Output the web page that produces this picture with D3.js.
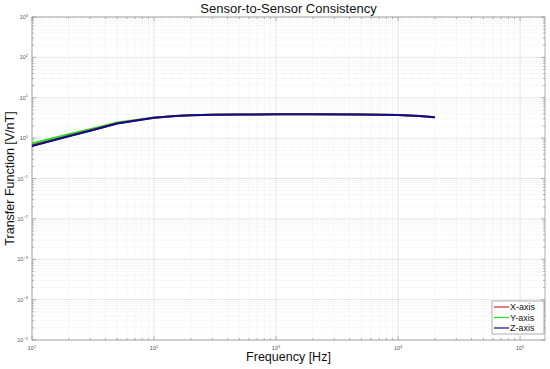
<!DOCTYPE html>
<html>
<head>
<meta charset="utf-8">
<script src="https://cdn.jsdelivr.net/npm/d3@7"></script>
<style>
  body { margin: 0; background: #fff; }
  text { font-family: "Liberation Sans", Arial, sans-serif; }
</style>
</head>
<body>
<svg id="chart" width="550" height="369"></svg>
<script>
// data
var freqs = [10, 20, 30, 50, 100, 150, 200, 300, 500, 1000, 2000, 5000, 10000, 15000, 20000];
var xAxisVals = [0.66, 1.13, 1.55, 2.33, 3.2, 3.52, 3.68, 3.8, 3.85, 3.88, 3.88, 3.85, 3.75, 3.55, 3.3];
var yAxisVals = [0.74, 1.25, 1.66, 2.45, 3.24, 3.54, 3.68, 3.8, 3.85, 3.88, 3.88, 3.85, 3.75, 3.55, 3.3];
var zAxisVals = [0.64, 1.11, 1.53, 2.3, 3.18, 3.51, 3.68, 3.8, 3.85, 3.88, 3.88, 3.85, 3.75, 3.55, 3.3];
var seriesNames = ["X-axis", "Y-axis", "Z-axis"];
var seriesColors = ["#d42a2a", "#22dd22", "#0c0c8c"];
var xDecades = [1, 2, 3, 4, 5];
var yDecades = [-5, -4, -3, -2, -1, 0, 1, 2, 3];

var svg = d3.select("#chart");
var margin = { left: 32, right: 5, top: 17, bottom: 29 };
var width = 550, height = 369;

var x = d3.scaleLog().domain([10, 1.6e5]).range([margin.left, width - margin.right]);
var y = d3.scaleLog().domain([1e-5, 1e3]).range([height - margin.bottom, margin.top]);

var x0 = margin.left, x1 = width - margin.right;
var y0 = height - margin.bottom, y1 = margin.top;

// minor values
var xMinor = [], yMinor = [];
xDecades.forEach(function (d) {
  for (var k = 2; k <= 9; k++) {
    var v = k * Math.pow(10, d);
    if (v < 1.6e5) xMinor.push(v);
  }
});
yDecades.slice(0, -1).forEach(function (d) {
  for (var k = 2; k <= 9; k++) yMinor.push(k * Math.pow(10, d));
});

var grid = svg.append("g");
// minor grid
grid.selectAll(".xmg").data(xMinor).enter().append("line")
  .attr("x1", function (v) { return x(v); }).attr("x2", function (v) { return x(v); })
  .attr("y1", y0).attr("y2", y1)
  .attr("stroke", "#e6e6e6").attr("stroke-width", 0.6).attr("stroke-dasharray", "1,1");
grid.selectAll(".ymg").data(yMinor).enter().append("line")
  .attr("y1", function (v) { return y(v); }).attr("y2", function (v) { return y(v); })
  .attr("x1", x0).attr("x2", x1)
  .attr("stroke", "#e6e6e6").attr("stroke-width", 0.6).attr("stroke-dasharray", "1,1");
// major grid
grid.selectAll(".xg").data(xDecades).enter().append("line")
  .attr("x1", function (d) { return x(Math.pow(10, d)); }).attr("x2", function (d) { return x(Math.pow(10, d)); })
  .attr("y1", y0).attr("y2", y1)
  .attr("stroke", "#d6d6d6").attr("stroke-width", 0.6);
grid.selectAll(".yg").data(yDecades).enter().append("line")
  .attr("y1", function (d) { return y(Math.pow(10, d)); }).attr("y2", function (d) { return y(Math.pow(10, d)); })
  .attr("x1", x0).attr("x2", x1)
  .attr("stroke", "#d6d6d6").attr("stroke-width", 0.6);

// ticks on all four sides (inside)
var tk = svg.append("g").attr("stroke", "#888").attr("stroke-width", 0.6);
xDecades.forEach(function (d) {
  var px = x(Math.pow(10, d));
  tk.append("line").attr("x1", px).attr("x2", px).attr("y1", y0).attr("y2", y0 - 4);
  tk.append("line").attr("x1", px).attr("x2", px).attr("y1", y1).attr("y2", y1 + 4);
});
xMinor.forEach(function (v) {
  var px = x(v);
  tk.append("line").attr("x1", px).attr("x2", px).attr("y1", y0).attr("y2", y0 - 2);
  tk.append("line").attr("x1", px).attr("x2", px).attr("y1", y1).attr("y2", y1 + 2);
});
yDecades.forEach(function (d) {
  var py = y(Math.pow(10, d));
  tk.append("line").attr("y1", py).attr("y2", py).attr("x1", x0).attr("x2", x0 + 4);
  tk.append("line").attr("y1", py).attr("y2", py).attr("x1", x1).attr("x2", x1 - 4);
});
yMinor.forEach(function (v) {
  var py = y(v);
  tk.append("line").attr("y1", py).attr("y2", py).attr("x1", x0).attr("x2", x0 + 2);
  tk.append("line").attr("y1", py).attr("y2", py).attr("x1", x1).attr("x2", x1 - 2);
});

// frame
svg.append("rect").attr("x", x0).attr("y", y1).attr("width", x1 - x0).attr("height", y0 - y1)
  .attr("fill", "none").attr("stroke", "#8a8a8a").attr("stroke-width", 0.7);

// tick labels
var xl = svg.append("g").selectAll("text").data(xDecades).enter().append("text")
  .attr("x", function (d) { return x(Math.pow(10, d)); })
  .attr("y", y0 + 10)
  .attr("text-anchor", "middle").attr("font-size", 5.5).attr("fill", "#555");
xl.append("tspan").text("10");
xl.append("tspan").attr("dy", -2.5).attr("font-size", 4).text(function (d) { return d; });

var yl = svg.append("g").selectAll("text").data(yDecades).enter().append("text")
  .attr("x", x0 - 4)
  .attr("y", function (d) { return y(Math.pow(10, d)) + 2; })
  .attr("text-anchor", "end").attr("font-size", 5.5).attr("fill", "#555");
yl.append("tspan").text("10");
yl.append("tspan").attr("dy", -2.5).attr("font-size", 4).text(function (d) { return d < 0 ? "\u2212" + (-d) : d; });

// lines
var line = d3.line()
  .x(function (d) { return x(d[0]); })
  .y(function (d) { return y(d[1]); });
var allSeries = [xAxisVals, yAxisVals, zAxisVals];
var drawOrder = [1, 0, 2];
drawOrder.forEach(function (i) {
  svg.append("path")
    .datum(freqs.map(function (f, j) { return [f, allSeries[i][j]]; }))
    .attr("d", line)
    .attr("fill", "none")
    .attr("stroke", seriesColors[i])
    .attr("stroke-width", 2)
    .attr("stroke-linejoin", "round");
});

// titles
svg.append("text").attr("x", (x0 + x1) / 2).attr("y", 13)
  .attr("text-anchor", "middle").attr("font-size", 13).attr("fill", "#111")
  .text("Sensor-to-Sensor Consistency");
svg.append("text").attr("x", (x0 + x1) / 2).attr("y", 361)
  .attr("text-anchor", "middle").attr("font-size", 12.5).attr("fill", "#111")
  .text("Frequency [Hz]");
svg.append("text")
  .attr("transform", "translate(14," + ((y0 + y1) / 2) + ") rotate(-90)")
  .attr("text-anchor", "middle").attr("font-size", 12.5).attr("fill", "#111")
  .text("Transfer Function [V/nT]");

// legend
var lg = svg.append("g").attr("transform", "translate(492,301)");
lg.append("rect").attr("width", 52).attr("height", 33)
  .attr("fill", "#fff").attr("stroke", "#777").attr("stroke-width", 0.6);
seriesNames.forEach(function (name, i) {
  var ly = 6 + i * 10.5;
  lg.append("line").attr("x1", 2).attr("x2", 17).attr("y1", ly).attr("y2", ly)
    .attr("stroke", seriesColors[i]).attr("stroke-width", 1.2);
  lg.append("text").attr("x", 18).attr("y", ly + 3.2)
    .attr("font-size", 9).attr("fill", "#111").text(name);
});
</script>
</body>
</html>
